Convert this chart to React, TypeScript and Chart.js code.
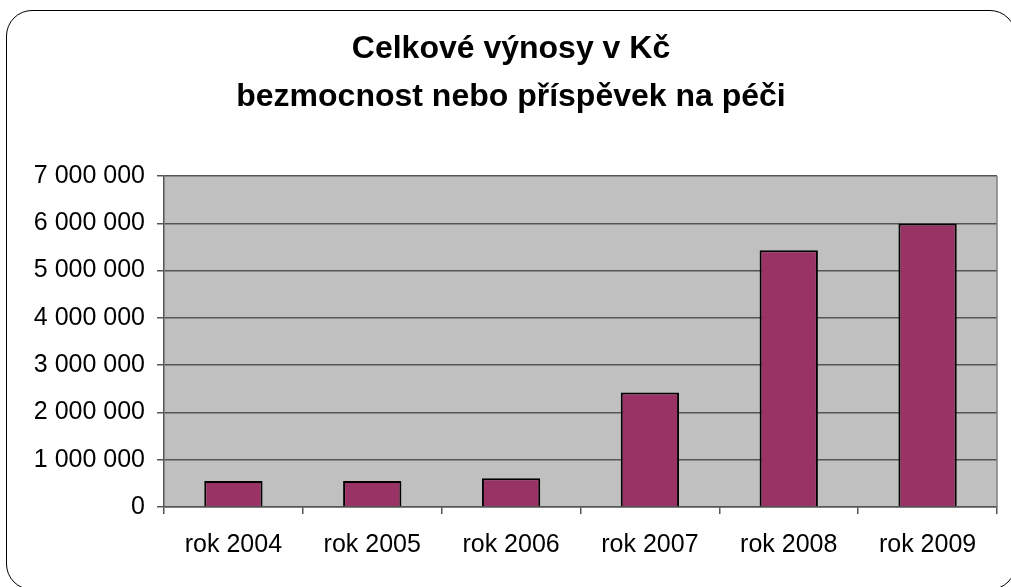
import React, { useEffect, useRef } from "react";
import { Chart, registerables } from "chart.js";

Chart.register(...registerables);

const categories: string[] = ["rok 2004", "rok 2005", "rok 2006", "rok 2007", "rok 2008", "rok 2009"];
const revenues: number[] = [550000, 550000, 610000, 2420000, 5430000, 5995000];
const titleLines: string[] = ["Celkové výnosy v Kč", "bezmocnost nebo příspěvek na péči"];
const yMax = 7000000;
const yStep = 1000000;

const FONT = "'Liberation Sans', Arial, sans-serif";

const formatNum = (v: number) => String(v).replace(/\B(?=(\d{3})+(?!\d))/g, " ");

const plotBg = {
  id: "plotBg",
  beforeDraw(chart: any) {
    const { ctx, chartArea } = chart;
    if (!chartArea) return;
    ctx.save();
    ctx.fillStyle = "#C0C0C0";
    ctx.fillRect(chartArea.left, chartArea.top, chartArea.right - chartArea.left, chartArea.bottom - chartArea.top);
    ctx.restore();
  },
  afterDatasetsDraw(chart: any) {
    const { ctx, chartArea } = chart;
    ctx.save();
    ctx.strokeStyle = "#808080";
    ctx.lineWidth = 1.5;
    ctx.beginPath();
    ctx.moveTo(chartArea.right, chartArea.top);
    ctx.lineTo(chartArea.right, chartArea.bottom);
    ctx.stroke();
    ctx.restore();
  },
};

export default function App() {
  const ref = useRef<HTMLCanvasElement | null>(null);

  useEffect(() => {
    if (!ref.current) return;
    const chart = new Chart(ref.current, {
      type: "bar",
      data: {
        labels: categories,
        datasets: [
          {
            data: revenues,
            backgroundColor: "#993366",
            borderColor: "#000000",
            borderWidth: 2,
            categoryPercentage: 1,
            barPercentage: 0.42,
          },
        ],
      },
      plugins: [plotBg],
      options: {
        responsive: false,
        animation: false,
        layout: { padding: { left: 25, right: 14, top: 0, bottom: 0 } },
        plugins: {
          legend: { display: false },
          tooltip: { enabled: false },
          title: {
            display: true,
            text: titleLines,
            color: "#000000",
            font: { family: FONT, size: 32, weight: "bold", lineHeight: 1.5 },
            padding: { top: 25, bottom: 55 },
          },
        },
        scales: {
          x: {
            grid: {
              offset: true,
              drawOnChartArea: false,
              drawTicks: true,
              tickLength: 7,
              color: "#555555",
              lineWidth: 1.5,
            },
            border: { display: true, color: "#555555", width: 1.5 },
            ticks: {
              color: "#000000",
              font: { family: FONT, size: 25 },
              padding: 16,
              maxRotation: 0,
            },
            afterFit: (scale: any) => {
              scale.height = 80;
            },
          },
          y: {
            min: 0,
            max: yMax,
            grid: {
              color: "#555555",
              lineWidth: 1.5,
              drawTicks: true,
              tickLength: 7,
            },
            border: { display: true, color: "#555555", width: 1.5 },
            ticks: {
              stepSize: yStep,
              color: "#000000",
              font: { family: FONT, size: 25 },
              padding: 12,
              callback: (v: any) => formatNum(Number(v)),
            },
            afterFit: (scale: any) => {
              scale.width = 139;
            },
          },
        },
      },
    });
    return () => chart.destroy();
  }, []);

  return (
    <div style={{ position: "fixed", left: 0, top: 0, width: 1011, height: 587, overflow: "hidden", background: "#ffffff" }}>
      <div
        style={{
          position: "absolute",
          left: 6,
          top: 10,
          width: 1010,
          height: 580,
          border: "1.5px solid #000000",
          borderRadius: 26,
          boxSizing: "border-box",
        }}
      />
      <canvas ref={ref} width={1011} height={587} style={{ position: "absolute", left: 0, top: 0, width: 1011, height: 587 }} />
    </div>
  );
}
